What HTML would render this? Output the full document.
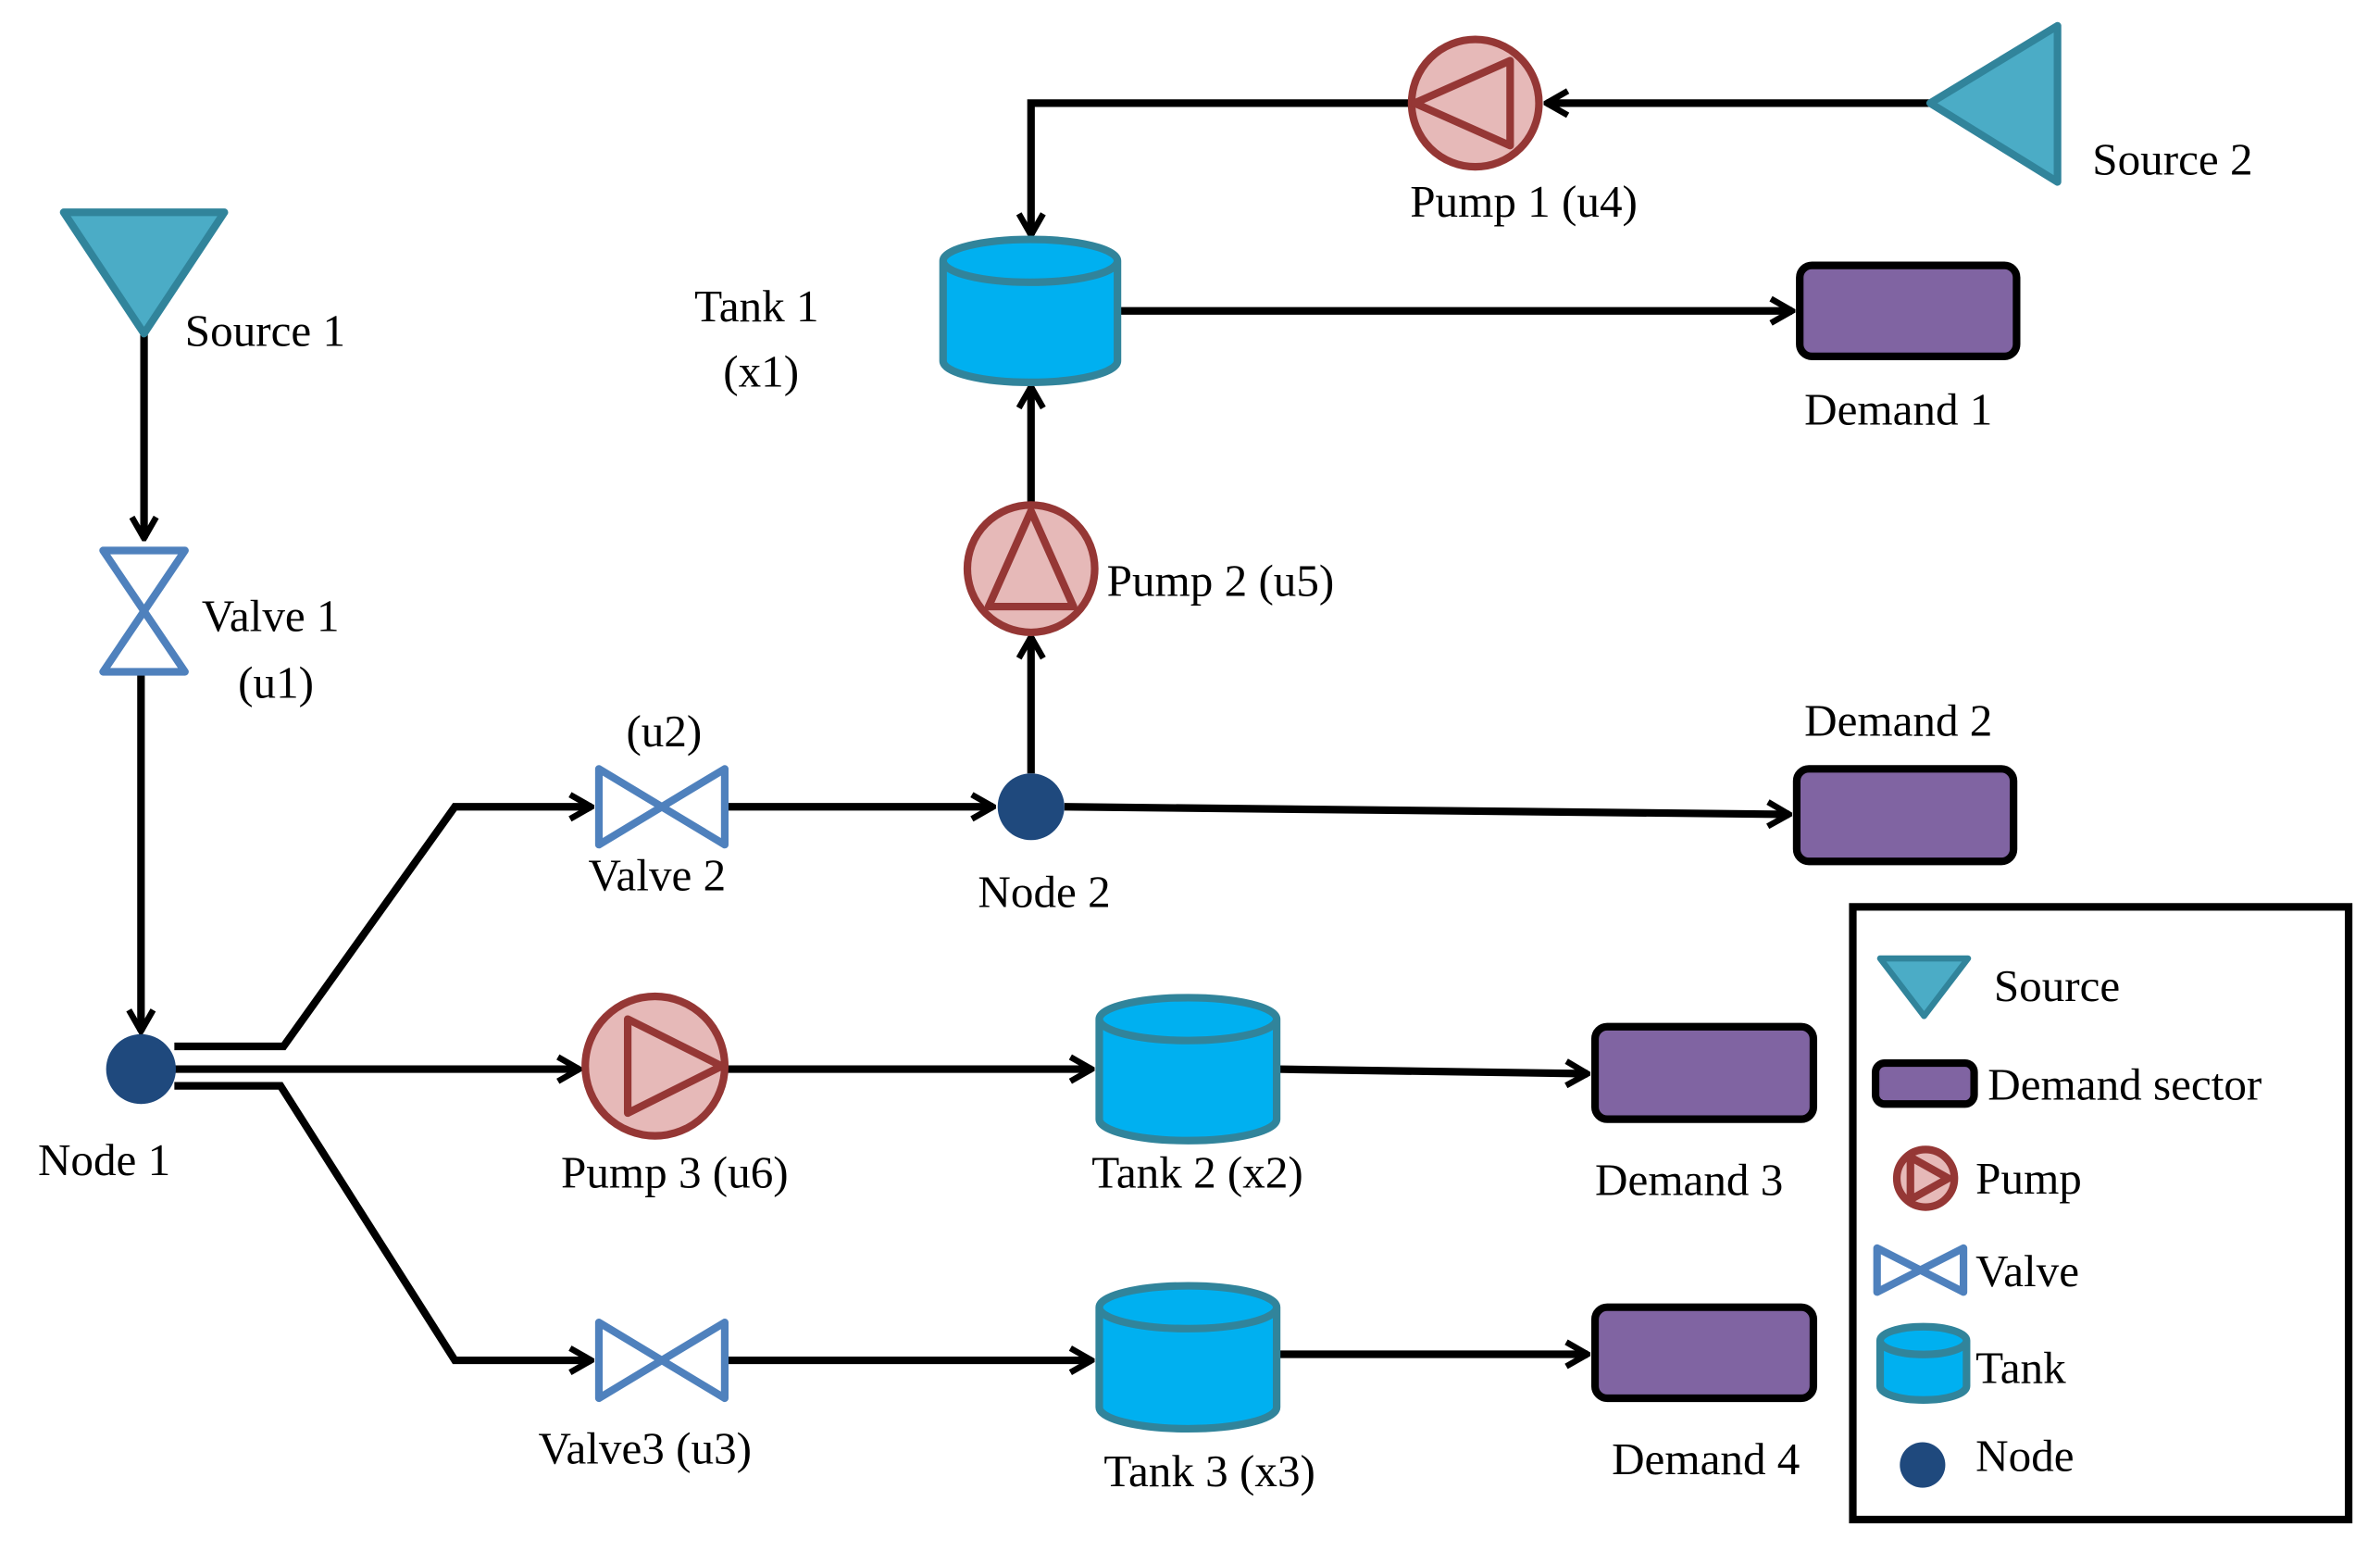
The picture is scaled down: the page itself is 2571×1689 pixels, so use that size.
<!DOCTYPE html>
<html><head><meta charset="utf-8"><style>html,body{margin:0;padding:0;background:#fff}svg{display:block}</style></head>
<body>
<svg width="2571" height="1689" viewBox="0 0 1554 1021" preserveAspectRatio="none" xmlns="http://www.w3.org/2000/svg">
<defs>
<marker id="a" viewBox="0 0 20 20" refX="18" refY="10" markerWidth="20" markerHeight="20" markerUnits="userSpaceOnUse" orient="auto">
<path d="M4,2 L18,10 L4,18" fill="none" stroke="#000" stroke-width="4"/>
</marker>
</defs>
<g transform="scale(0.99)">
<g fill="none" stroke="#000" stroke-width="5" marker-end="url(#a)">
<path d="M95,220 V355"/>
<path d="M93,443 V680"/>
<path d="M115,690 H187 L300,532 H390"/>
<path d="M115,705 H382"/>
<path d="M115,716 H185 L300,897 H390"/>
<path d="M478,532 H655"/>
<path d="M702,532 L1180,537"/>
<path d="M680,510 V420"/>
<path d="M680,333 V255"/>
<path d="M737,205 H1182"/>
<path d="M1273,68 H1020"/>
<path d="M930,68 H680 V155"/>
<path d="M480,705 H720"/>
<path d="M842,705 L1047,708"/>
<path d="M478,897 H720"/>
<path d="M842,893 H1047"/>
</g>
<polygon points="42,140 148,140 95,220" fill="#4bacc6" stroke="#31849b" stroke-width="5" stroke-linejoin="round"/>
<polygon points="1357,17 1357,120 1273,68" fill="#4bacc6" stroke="#31849b" stroke-width="5" stroke-linejoin="round"/>
<g fill="#fff" stroke="#4f81bd" stroke-width="5" stroke-linejoin="round">
<polygon points="68,363 122,363 68,443 122,443"/>
<polygon points="395,507 395,557 478,507 478,557"/>
<polygon points="395,872 395,922 478,872 478,922"/>
<polygon points="1238,823 1238,852 1295,823 1295,852"/>
</g>
<g fill="#1f497d">
<circle cx="93" cy="705" r="23"/><circle cx="680" cy="532" r="22"/><circle cx="1268" cy="966" r="15"/>
</g>
<g fill="#e6b9b8" stroke="#953735" stroke-width="5" stroke-linejoin="round">
<circle cx="680" cy="375" r="42"/><polygon points="680,337 652,400 708,400"/>
<circle cx="973" cy="68" r="42"/><polygon points="933,68 996,40 996,96"/>
<circle cx="432" cy="703" r="46"/><polygon points="476,703 414,672 414,734"/>
<circle cx="1270" cy="777" r="19"/><polygon points="1285,777 1260,763 1260,791"/>
</g>
<g fill="#00b0f0" stroke="#31849b" stroke-width="5">
<path d="M622,172 V238 A57,14 0 0 0 737,238 V172 A57,14 0 0 0 622,172 A57,14 0 0 0 737,172"/>
<path d="M725,672 V738 A58,14 0 0 0 842,738 V672 A58,14 0 0 0 725,672 A58,14 0 0 0 842,672"/>
<path d="M725,862 V928 A58,14 0 0 0 842,928 V862 A58,14 0 0 0 725,862 A58,14 0 0 0 842,862"/>
<path d="M1240,884 V914 A28,9 0 0 0 1297,914 V884 A28,9 0 0 0 1240,884 A28,9 0 0 0 1297,884"/>
</g>
<g fill="#8064a2" stroke="#000" stroke-width="5">
<rect x="1187" y="175" width="143" height="60" rx="8"/>
<rect x="1185" y="507" width="143" height="61" rx="8"/>
<rect x="1052" y="677" width="144" height="61" rx="8"/>
<rect x="1052" y="862" width="144" height="60" rx="8"/>
<rect x="1237" y="701" width="65" height="27" rx="6"/>
</g>
<rect x="1222" y="598" width="327" height="404" fill="none" stroke="#000" stroke-width="5"/>
<polygon points="1240,632 1298,632 1269,670" fill="#4bacc6" stroke="#31849b" stroke-width="4" stroke-linejoin="round"/>
<g font-family="Liberation Serif, serif" font-size="30" fill="#000">
<text x="122" y="228">Source 1</text>
<text x="133" y="416">Valve  1</text>
<text x="157" y="460">(u1)</text>
<text x="25" y="775">Node 1</text>
<text x="413" y="492">(u2)</text>
<text x="388" y="587">Valve  2</text>
<text x="645" y="598">Node 2</text>
<text x="730" y="393">Pump 2 (u5)</text>
<text x="458" y="212">Tank  1</text>
<text x="477" y="255">(x1)</text>
<text x="930" y="143">Pump  1  (u4)</text>
<text x="1380" y="115">Source 2</text>
<text x="1190" y="280">Demand  1</text>
<text x="1190" y="485">Demand  2</text>
<text x="370" y="783">Pump  3  (u6)</text>
<text x="720" y="783">Tank  2  (x2)</text>
<text x="1052" y="788">Demand  3</text>
<text x="355" y="965">Valve3   (u3)</text>
<text x="728" y="980">Tank  3  (x3)</text>
<text x="1063" y="972">Demand  4</text>
<text x="1315" y="660">Source</text>
<text x="1311" y="725">Demand  sector</text>
<text x="1303" y="787">Pump</text>
<text x="1303" y="848">Valve</text>
<text x="1303" y="912">Tank</text>
<text x="1303" y="970">Node</text>
</g>
</g>
</svg>
</body></html>
